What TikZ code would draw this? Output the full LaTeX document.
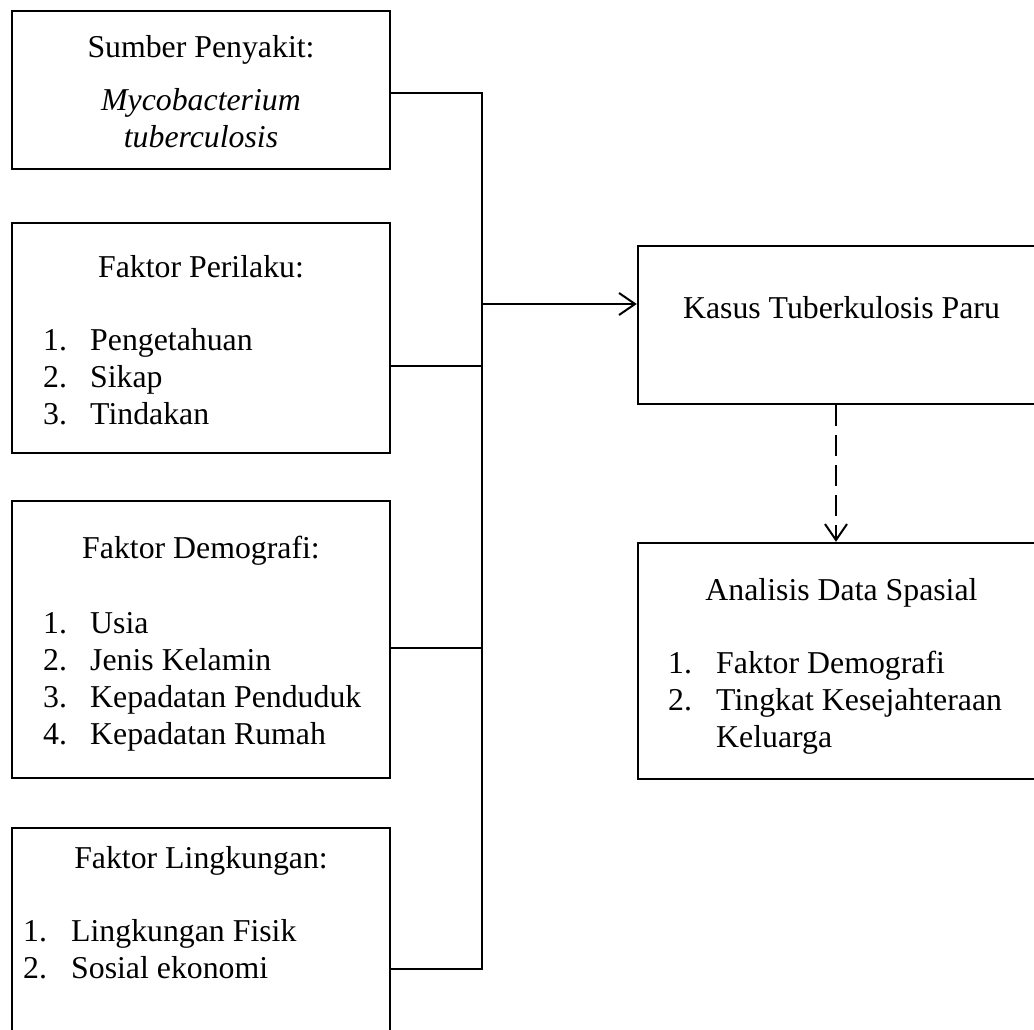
\documentclass[tikz,border=0pt]{standalone}
\usepackage{fontspec}
\setmainfont{Liberation Serif}
\usetikzlibrary{arrows.meta}
\tikzset{
  box/.style={draw, line width=2.4pt, rectangle, inner sep=0pt},
  txt/.style={font=\fontsize{31.8}{37}\selectfont, inner sep=0pt, anchor=base},
  lft/.style={font=\fontsize{31.8}{37}\selectfont, inner sep=0pt, anchor=base west},
  conn/.style={line width=2pt},
  tip/.style={-{Straight Barb[length=16pt,width=22pt,line width=2pt]}}
}
\begin{document}
\begin{tikzpicture}[x=1pt,y=-1pt]
\useasboundingbox (0,0) rectangle (1034,1029);
\clip (0,0) rectangle (1034,1029);
% left boxes
\node[box, minimum width=378pt, minimum height=158pt] (b1) at (201,90) {};
\node[box, minimum width=378pt, minimum height=230pt] (b2) at (201,338) {};
\node[box, minimum width=378pt, minimum height=277pt] (b3) at (201,639.5) {};
\node[box, minimum width=378pt, minimum height=252pt] (b4) at (201,954) {};
% right boxes
\node[box, minimum width=407pt, minimum height=158pt] (k) at (841.5,325) {};
\node[box, minimum width=407pt, minimum height=236pt] (a) at (841.5,661) {};
% box 1 text
\node[txt] (t11) at (201,57) {Sumber Penyakit:};
\node[txt] (t12) at (201,110) {\itshape Mycobacterium};
\node[txt] (t13) at (201,147) {\itshape tuberculosis};
% box 2 text
\node[txt] (t21) at (201,277) {Faktor Perilaku:};
\node[lft] (n21) at (43,350) {1.}; \node[lft] (i21) at (90,350) {Pengetahuan};
\node[lft] (n22) at (43,387) {2.}; \node[lft] (i22) at (90,387) {Sikap};
\node[lft] (n23) at (43,424) {3.}; \node[lft] (i23) at (90,424) {Tindakan};
% box 3 text
\node[txt] (t31) at (201,558) {Faktor Demografi:};
\node[lft] (n31) at (43,633) {1.}; \node[lft] (i31) at (90,633) {Usia};
\node[lft] (n32) at (43,670) {2.}; \node[lft] (i32) at (90,670) {Jenis Kelamin};
\node[lft] (n33) at (43,707) {3.}; \node[lft] (i33) at (90,707) {Kepadatan Penduduk};
\node[lft] (n34) at (43,744) {4.}; \node[lft] (i34) at (90,744) {Kepadatan Rumah};
% box 4 text
\node[txt] (t41) at (201,868) {Faktor Lingkungan:};
\node[lft] (n41) at (23,941) {1.}; \node[lft] (i41) at (71,941) {Lingkungan Fisik};
\node[lft] (n42) at (23,978) {2.}; \node[lft] (i42) at (71,978) {Sosial ekonomi};
% right texts
\node[txt] (tk) at (841.5,318) {Kasus Tuberkulosis Paru};
\node[txt] (ta) at (841.5,600) {Analisis Data Spasial};
\node[lft] (na1) at (668,673) {1.}; \node[lft] (ia1) at (716,673) {Faktor Demografi};
\node[lft] (na2) at (668,710) {2.}; \node[lft] (ia2) at (716,710) {Tingkat Kesejahteraan};
\node[lft] (ia3) at (716,747) {Keluarga};
% bus coordinates
\coordinate (j1) at (482,93);
\coordinate (j2) at (482,366);
\coordinate (j3) at (482,648);
\coordinate (j4) at (482,969);
\coordinate (jk) at (482,304);
\coordinate (dx) at (836,0);
% connectors
\draw[conn] (b1.east |- j1) -- (j1) -- (j4) -- (b4.east |- j4);
\draw[conn] (b2.east |- j2) -- (j2);
\draw[conn] (b3.east |- j3) -- (j3);
\draw[conn, tip] (jk) -- (k.west |- jk);
\draw[conn, tip, dash pattern=on 21pt off 9pt] (k.south -| dx) -- (a.north -| dx);
\end{tikzpicture}
\end{document}
